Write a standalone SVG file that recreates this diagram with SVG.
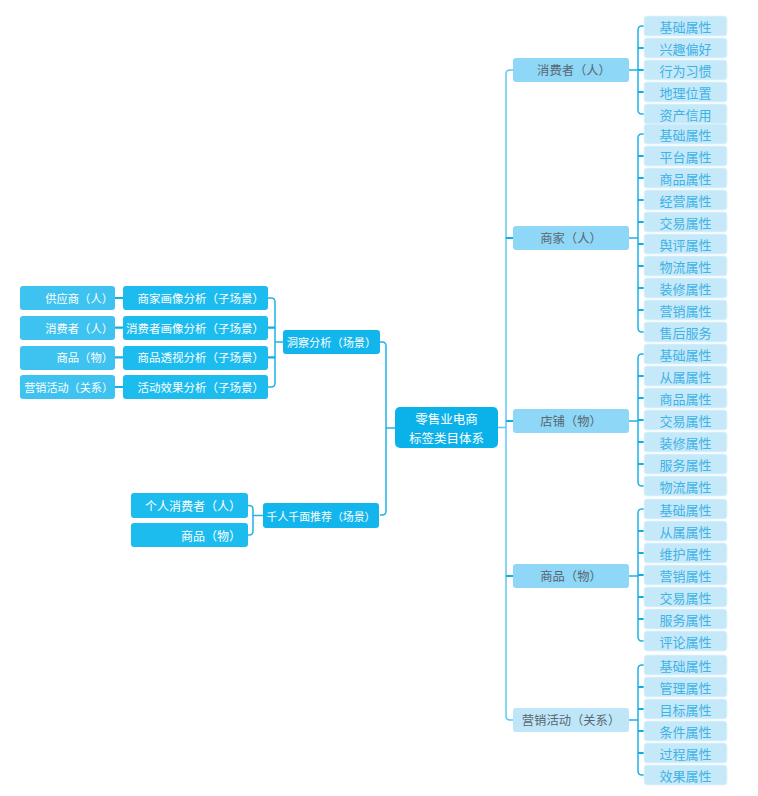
<svg xmlns="http://www.w3.org/2000/svg" width="758" height="796" viewBox="0 0 758 796">
<style>
text{font-family:"Noto Sans CJK SC","Noto Sans",sans-serif;dominant-baseline:central}
.c{fill:#0bb2ea}
.l1{fill:#12b6ec}
.l2{fill:#1dbcef}
.l3{fill:#3ec3f0}
.r1{fill:#8fd7f6}
.lf{fill:#c6e9f9;stroke:#e2f4fc;stroke-width:0.8}
.tw{fill:#ffffff}
.tg{fill:#5a6670;font-size:12.3px;text-anchor:middle}
.tl{fill:#3fb2e6;font-size:13px;text-anchor:middle}
.conn path{fill:none;stroke:#1fb3e8;stroke-width:1.5}
.conn .t{stroke-width:2.2;stroke:#10aee6}
.conn .trunk{stroke:#5ec8f3}
</style>
<g class="conn" id="connectors">
<path class="trunk" d="M498,427.5 H506 M513,70 H510 Q506,70 506,74 V716 Q506,720 510,720 H513"/>
<path class="t" d="M506,238 H513 M506,421 H513 M506,576 H513"/>
<path d="M395,428 H386 M380,342 H382 Q386,342 386,346 V511 Q386,515 382,515 H380"/>
<path d="M283,342 H275 M268,298 H271 Q275,298 275,302 V383 Q275,387 271,387 H268"/>
<path class="t" d="M275,327.7 H268 M275,357.3 H268"/>
<path class="t" d="M115,298 H123 M115,327.7 H123 M115,357.3 H123 M115,387 H123"/>
<path d="M263,515.5 H253 M248,505.5 H249 Q253,505.5 253,509.5 V531 Q253,535 249,535 H248"/>
<path d="M629,70 H638 M644,26 H642 Q638,26 638,30 V110 Q638,114 642,114 H644"/>
<path class="t" d="M638,48 H644 M638,70 H644 M638,92 H644"/>
<path d="M629,238 H638 M644,134 H642 Q638,134 638,138 V328 Q638,332 642,332 H644"/>
<path class="t" d="M638,156 H644 M638,178 H644 M638,200 H644 M638,222 H644 M638,244 H644 M638,266 H644 M638,288 H644 M638,310 H644"/>
<path d="M629,421 H638 M644,354 H642 Q638,354 638,358 V482 Q638,486 642,486 H644"/>
<path class="t" d="M638,376 H644 M638,398 H644 M638,420 H644 M638,442 H644 M638,464 H644"/>
<path d="M629,576 H638 M644,509 H642 Q638,509 638,513 V637 Q638,641 642,641 H644"/>
<path class="t" d="M638,531 H644 M638,553 H644 M638,575 H644 M638,597 H644 M638,619 H644"/>
<path d="M629,720 H638 M644,665 H642 Q638,665 638,669 V771 Q638,775 642,775 H644"/>
<path class="t" d="M638,687 H644 M638,709 H644 M638,731 H644 M638,753 H644"/>
</g>
<g id="root"><rect class="c" x="395" y="407" width="103" height="41" rx="5"/><text class="tw" x="446.5" y="418.5" font-size="12.5" text-anchor="middle">零售业电商</text><text class="tw" x="446.5" y="437" font-size="12.5" text-anchor="middle">标签类目体系</text></g>
<g id="insight"><rect class="l1" x="283" y="330" width="97" height="24" rx="3"/><text class="tw" x="331.5" y="342" font-size="11.2" text-anchor="middle">洞察分析（场景）</text></g>
<g id="recommend"><rect class="l1" x="263" y="503" width="116" height="25" rx="3"/><text class="tw" x="321" y="515.5" font-size="10.9" text-anchor="middle">千人千面推荐（场景）</text></g>
<g id="s1"><rect class="l2" x="123" y="286" width="145" height="24" rx="3"/><text class="tw" x="264" y="298" font-size="11.5" text-anchor="end">商家画像分析（子场景）</text></g>
<g id="s2"><rect class="l2" x="123" y="316" width="145" height="24" rx="3"/><text class="tw" x="264" y="327.7" font-size="11.5" text-anchor="end">消费者画像分析（子场景）</text></g>
<g id="s3"><rect class="l2" x="123" y="346" width="145" height="24" rx="3"/><text class="tw" x="264" y="357.3" font-size="11.5" text-anchor="end">商品透视分析（子场景）</text></g>
<g id="s4"><rect class="l2" x="123" y="375" width="145" height="24" rx="3"/><text class="tw" x="264" y="387" font-size="11.5" text-anchor="end">活动效果分析（子场景）</text></g>
<g id="e1"><rect class="l3" x="20" y="286" width="95" height="24" rx="3"/><text class="tw" x="113" y="298" font-size="11.3" text-anchor="end">供应商（人）</text></g>
<g id="e2"><rect class="l3" x="20" y="316" width="95" height="24" rx="3"/><text class="tw" x="113" y="327.7" font-size="11.3" text-anchor="end">消费者（人）</text></g>
<g id="e3"><rect class="l3" x="20" y="346" width="95" height="24" rx="3"/><text class="tw" x="113" y="357.3" font-size="11.3" text-anchor="end">商品（物）</text></g>
<g id="e4"><rect class="l3" x="20" y="375" width="95" height="24" rx="3"/><text class="tw" x="113" y="387" font-size="11.1" text-anchor="end">营销活动（关系）</text></g>
<g id="p1"><rect class="l2" x="131" y="493" width="117" height="25" rx="3"/><text class="tw" x="241" y="505.5" font-size="12" text-anchor="end">个人消费者（人）</text></g>
<g id="p2"><rect class="l2" x="131" y="523" width="117" height="24" rx="3"/><text class="tw" x="241" y="535" font-size="12" text-anchor="end">商品（物）</text></g>
<g id="consumer"><rect class="r1" x="513" y="58" width="116" height="24" rx="3"/><text class="tg" x="574" y="70">消费者（人）</text></g>
<g id="merchant"><rect class="r1" x="513" y="226" width="116" height="24" rx="3"/><text class="tg" x="571" y="238">商家（人）</text></g>
<g id="shop"><rect class="r1" x="513" y="409" width="116" height="24" rx="3"/><text class="tg" x="571" y="421">店铺（物）</text></g>
<g id="goods"><rect class="r1" x="513" y="564" width="116" height="24" rx="3"/><text class="tg" x="571" y="576">商品（物）</text></g>
<g id="campaign"><rect class="r1" x="513" y="708" width="116" height="24" rx="3" style="fill:#bfe6f8"/><text class="tg" x="571" y="720">营销活动（关系）</text></g>
<g id="c1"><rect class="lf" x="644" y="16" width="83" height="20" rx="3"/><text class="tl" x="685.5" y="26">基础属性</text></g>
<g id="c2"><rect class="lf" x="644" y="38" width="83" height="20" rx="3"/><text class="tl" x="685.5" y="48">兴趣偏好</text></g>
<g id="c3"><rect class="lf" x="644" y="60" width="83" height="20" rx="3"/><text class="tl" x="685.5" y="70">行为习惯</text></g>
<g id="c4"><rect class="lf" x="644" y="82" width="83" height="20" rx="3"/><text class="tl" x="685.5" y="92">地理位置</text></g>
<g id="c5"><rect class="lf" x="644" y="104" width="83" height="20" rx="3"/><text class="tl" x="685.5" y="114">资产信用</text></g>
<g id="m1"><rect class="lf" x="644" y="124" width="83" height="20" rx="3"/><text class="tl" x="685.5" y="134">基础属性</text></g>
<g id="m2"><rect class="lf" x="644" y="146" width="83" height="20" rx="3"/><text class="tl" x="685.5" y="156">平台属性</text></g>
<g id="m3"><rect class="lf" x="644" y="168" width="83" height="20" rx="3"/><text class="tl" x="685.5" y="178">商品属性</text></g>
<g id="m4"><rect class="lf" x="644" y="190" width="83" height="20" rx="3"/><text class="tl" x="685.5" y="200">经营属性</text></g>
<g id="m5"><rect class="lf" x="644" y="212" width="83" height="20" rx="3"/><text class="tl" x="685.5" y="222">交易属性</text></g>
<g id="m6"><rect class="lf" x="644" y="234" width="83" height="20" rx="3"/><text class="tl" x="685.5" y="244">舆评属性</text></g>
<g id="m7"><rect class="lf" x="644" y="256" width="83" height="20" rx="3"/><text class="tl" x="685.5" y="266">物流属性</text></g>
<g id="m8"><rect class="lf" x="644" y="278" width="83" height="20" rx="3"/><text class="tl" x="685.5" y="288">装修属性</text></g>
<g id="m9"><rect class="lf" x="644" y="300" width="83" height="20" rx="3"/><text class="tl" x="685.5" y="310">营销属性</text></g>
<g id="m10"><rect class="lf" x="644" y="322" width="83" height="20" rx="3"/><text class="tl" x="685.5" y="332">售后服务</text></g>
<g id="d1"><rect class="lf" x="644" y="344" width="83" height="20" rx="3"/><text class="tl" x="685.5" y="354">基础属性</text></g>
<g id="d2"><rect class="lf" x="644" y="366" width="83" height="20" rx="3"/><text class="tl" x="685.5" y="376">从属属性</text></g>
<g id="d3"><rect class="lf" x="644" y="388" width="83" height="20" rx="3"/><text class="tl" x="685.5" y="398">商品属性</text></g>
<g id="d4"><rect class="lf" x="644" y="410" width="83" height="20" rx="3"/><text class="tl" x="685.5" y="420">交易属性</text></g>
<g id="d5"><rect class="lf" x="644" y="432" width="83" height="20" rx="3"/><text class="tl" x="685.5" y="442">装修属性</text></g>
<g id="d6"><rect class="lf" x="644" y="454" width="83" height="20" rx="3"/><text class="tl" x="685.5" y="464">服务属性</text></g>
<g id="d7"><rect class="lf" x="644" y="476" width="83" height="20" rx="3"/><text class="tl" x="685.5" y="486">物流属性</text></g>
<g id="g1"><rect class="lf" x="644" y="499" width="83" height="20" rx="3"/><text class="tl" x="685.5" y="509">基础属性</text></g>
<g id="g2"><rect class="lf" x="644" y="521" width="83" height="20" rx="3"/><text class="tl" x="685.5" y="531">从属属性</text></g>
<g id="g3"><rect class="lf" x="644" y="543" width="83" height="20" rx="3"/><text class="tl" x="685.5" y="553">维护属性</text></g>
<g id="g4"><rect class="lf" x="644" y="565" width="83" height="20" rx="3"/><text class="tl" x="685.5" y="575">营销属性</text></g>
<g id="g5"><rect class="lf" x="644" y="587" width="83" height="20" rx="3"/><text class="tl" x="685.5" y="597">交易属性</text></g>
<g id="g6"><rect class="lf" x="644" y="609" width="83" height="20" rx="3"/><text class="tl" x="685.5" y="619">服务属性</text></g>
<g id="g7"><rect class="lf" x="644" y="631" width="83" height="20" rx="3"/><text class="tl" x="685.5" y="641">评论属性</text></g>
<g id="a1"><rect class="lf" x="644" y="655" width="83" height="20" rx="3"/><text class="tl" x="685.5" y="665">基础属性</text></g>
<g id="a2"><rect class="lf" x="644" y="677" width="83" height="20" rx="3"/><text class="tl" x="685.5" y="687">管理属性</text></g>
<g id="a3"><rect class="lf" x="644" y="699" width="83" height="20" rx="3"/><text class="tl" x="685.5" y="709">目标属性</text></g>
<g id="a4"><rect class="lf" x="644" y="721" width="83" height="20" rx="3"/><text class="tl" x="685.5" y="731">条件属性</text></g>
<g id="a5"><rect class="lf" x="644" y="743" width="83" height="20" rx="3"/><text class="tl" x="685.5" y="753">过程属性</text></g>
<g id="a6"><rect class="lf" x="644" y="765" width="83" height="20" rx="3"/><text class="tl" x="685.5" y="775">效果属性</text></g>
</svg>
